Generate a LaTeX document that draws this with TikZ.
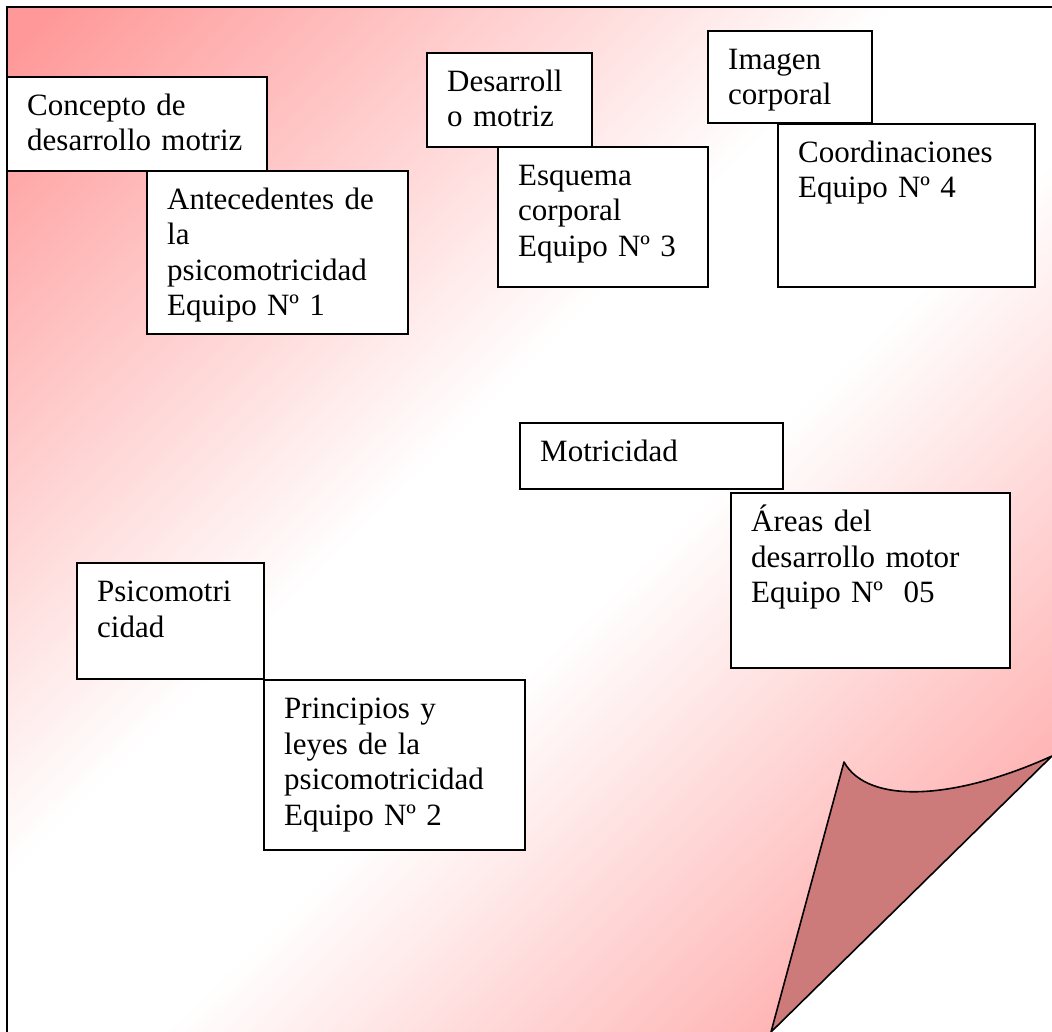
\documentclass[tikz,border=0pt]{standalone}
\usepackage{fontspec}
\setmainfont{Liberation Serif}
\definecolor{doblez}{RGB}{204,122,122}
\pgfdeclarefunctionalshading{pagina}{\pgfpointorigin}{\pgfpoint{100bp}{100bp}}{}{%
  sub abs 50 div 0.15 sub 0.8 div dup 0 lt {pop 0} if dup 1 gt {pop 1} if
  0.4 mul 1 exch sub 1 exch dup}

\begin{document}
\begin{tikzpicture}[x=1pt,y=-1pt,
        cuadro/.style={draw,fill=white,line width=1.6pt,anchor=north west,inner sep=0pt,outer sep=0pt},
        texto/.style={anchor=base west,xshift=20pt,yshift=-38.5pt,inner sep=0pt,
            text width=240pt,align=left,font=\fontsize{31}{35.5}\selectfont}]

    \useasboundingbox[fill=white] (0,0) rectangle (1052,1032);

    % hoja con la esquina doblada
    \shade[shading=pagina] (7,7) -- (1052,7) -- (1052,756) -- (771,1032) -- (7,1032) -- cycle;
    \draw[line width=2pt] (7,1032) -- (7,7) -- (1052,7);
    \coordinate (punta) at (844,762);
    \coordinate (pie) at (771,1032);
    \coordinate (borde) at (1052,756);
    \draw[fill=doblez,line width=1.6pt,line join=round]
        (pie) -- (borde) .. controls (955,800) and (868,805) .. (punta) -- cycle;

    \node[cuadro,minimum width=260pt,minimum height=94pt,
        label={[texto]north west:{Concepto de\\desarrollo motriz}}] (concepto) at (7,77) {};
    \node[cuadro,minimum width=261pt,minimum height=163pt,
        label={[texto]north west:{Antecedentes de\\la\\psicomotricidad\\Equipo Nº 1}}] (antecedentes) at (147,171) {};

    \node[cuadro,minimum width=165pt,minimum height=94pt,
        label={[texto]north west:{Desarroll\\o motriz}}] (desarrollo) at (427,53) {};
    \node[cuadro,minimum width=210pt,minimum height=140pt,
        label={[texto]north west:{Esquema\\corporal\\Equipo Nº 3}}] (esquema) at (498,147) {};

    \node[cuadro,minimum width=164pt,minimum height=92pt,
        label={[texto]north west:{Imagen\\corporal}}] (imagen) at (708,31) {};
    \node[cuadro,minimum width=257pt,minimum height=163pt,
        label={[texto]north west:{Coordinaciones\\Equipo Nº 4}}] (coordinaciones) at (778,124) {};

    \node[cuadro,minimum width=263pt,minimum height=66pt,
        label={[texto]north west:{Motricidad}}] (motricidad) at (520,423) {};
    \node[cuadro,minimum width=279pt,minimum height=175pt,
        label={[texto]north west:{Áreas del\\desarrollo motor\\Equipo Nº~ 05}}] (areas) at (731,493) {};

    \node[cuadro,minimum width=187pt,minimum height=116pt,
        label={[texto]north west:{Psicomotri\\cidad}}] (psicomotricidad) at (77,563) {};
    \node[cuadro,minimum width=261pt,minimum height=170pt,
        label={[texto]north west:{Principios y\\leyes de la\\psicomotricidad\\Equipo Nº 2}}] (principios) at (264,680) {};
\end{tikzpicture}
\end{document}
